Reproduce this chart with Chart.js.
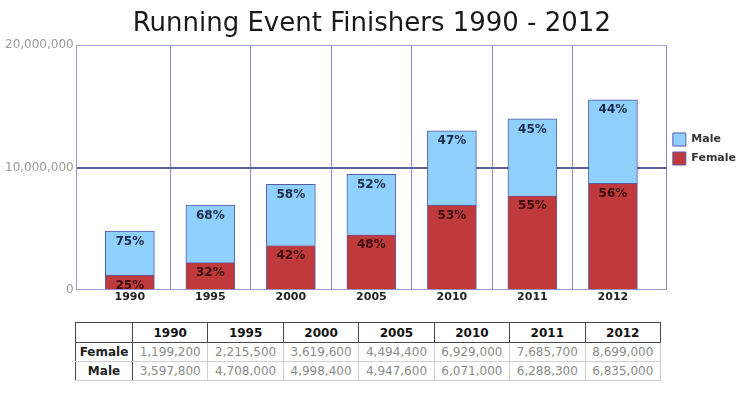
<!DOCTYPE html>
<html><head><meta charset="utf-8">
<script src="https://cdn.jsdelivr.net/npm/chart.js@4"></script>
<style>
html,body{margin:0;padding:0;background:#fff;}
#wrap{position:relative;width:750px;height:394px;overflow:hidden;}
#cbox{position:absolute;left:0;top:0;width:750px;height:310px;}
#tbl{position:absolute;left:75px;top:322px;width:586px;border-collapse:collapse;table-layout:fixed;font-family:'DejaVu Sans',Verdana,sans-serif;font-size:12px;}
#tbl th,#tbl td{padding:0;text-align:center;white-space:nowrap;overflow:hidden;}
#tbl tr.hd th{border:1px solid #4a4a4a;height:19px;color:#111;font-weight:bold;}
#tbl th.rh{border-left:1px solid #4a4a4a;border-right:1px solid #4a4a4a;border-top:1px solid #cfcfcf;border-bottom:1px solid #cfcfcf;color:#222;font-weight:bold;height:18px;}
#tbl td{border:1px solid #cfcfcf;color:#8a8a8a;height:18px;}
</style></head>
<body>
<div id="wrap">
  <div id="cbox"><canvas id="c"></canvas></div>
  <table id="tbl"></table>
</div>
<script>
const chartTitle = 'Running Event Finishers 1990 - 2012';
const years = ['1990', '1995', '2000', '2005', '2010', '2011', '2012'];
const female = [1199200, 2215500, 3619600, 4494400, 6929000, 7685700, 8699000];
const male = [3597800, 4708000, 4998400, 4947600, 6071000, 6288300, 6835000];
const yTickValues = [0, 10000000, 20000000];
const seriesNames = ['Female', 'Male'];

const FONT = "'DejaVu Sans', Verdana, sans-serif";
const fmt = v => Number(v).toLocaleString('en-US');

// table built from the same arrays
(function () {
  const t = document.getElementById('tbl');
  let h = '<colgroup><col style="width:57px">' + years.map(() => '<col>').join('') + '</colgroup>';
  h += '<tr class="hd"><th></th>' + years.map(y => '<th>' + y + '</th>').join('') + '</tr>';
  [[seriesNames[0], female], [seriesNames[1], male]].forEach(([n, arr]) => {
    h += '<tr><th class="rh">' + n + '</th>' + arr.map(v => '<td>' + fmt(v) + '</td>').join('') + '</tr>';
  });
  t.innerHTML = h;
})();

const pctPlugin = {
  id: 'pct',
  afterDatasetsDraw(chart) {
    const ctx = chart.ctx;
    ctx.save();
    ctx.font = 'bold 12px ' + FONT;
    ctx.textAlign = 'center';
    ctx.textBaseline = 'middle';
    chart.data.datasets.forEach((ds, di) => {
      const meta = chart.getDatasetMeta(di);
      meta.data.forEach((bar, i) => {
        const total = female[i] + male[i];
        const v = di === 0 ? female[i] : male[i];
        ctx.fillStyle = di === 0 ? '#3a0c0c' : '#1c2b48';
        ctx.fillText(Math.round(v / total * 100) + '%', bar.x, bar.y + 10.5);
      });
    });
    ctx.restore();
  }
};

const xMin = -0.66, xMax = 6.67;
const tv = (c) => (c && c.tick) ? c.tick.value : null;

new Chart(document.getElementById('c'), {
  type: 'bar',
  data: {
    datasets: [
      { label: seriesNames[0], data: female.map((v, i) => ({ x: i, y: v })), backgroundColor: '#c0393b', borderColor: '#5a5aa6', borderWidth: 1, stack: 's' },
      { label: seriesNames[1], data: male.map((v, i) => ({ x: i, y: v })), backgroundColor: '#8fd0fd', borderColor: '#5a5aa6', borderWidth: 1, stack: 's' }
    ]
  },
  options: {
    responsive: true,
    maintainAspectRatio: false,
    animation: false,
    barThickness: 49,
    layout: { padding: { left: 2, right: 4, top: 0, bottom: 5 } },
    scales: {
      x: {
        type: 'linear',
        offset: false,
        min: xMin, max: xMax,
        afterBuildTicks: (axis) => {
          const t = [xMin];
          for (let i = 0; i < years.length; i++) { t.push(i); if (i < years.length - 1) t.push(i + 0.5); }
          t.push(xMax);
          axis.ticks = t.map(v => ({ value: v }));
        },
        ticks: {
          autoSkip: false, maxRotation: 0, padding: 1,
          color: '#222', font: { family: FONT, size: 11, weight: 'bold' },
          callback: (v) => Number.isInteger(v) ? years[v] : ''
        },
        grid: {
          offset: false,
          drawTicks: false,
          color: (c) => { const v = tv(c); return (v !== null && Number.isInteger(v)) ? 'rgba(0,0,0,0)' : '#8e8ebf'; },
          lineWidth: 1
        },
        border: { display: true, color: '#9b9bcb', width: 1 }
      },
      y: {
        stacked: true,
        min: 0, max: 20000000,
        afterBuildTicks: (axis) => { axis.ticks = yTickValues.map(v => ({ value: v })); },
        ticks: {
          padding: 3, color: '#9a9a9a', font: { family: FONT, size: 12 },
          callback: (v) => fmt(v)
        },
        grid: {
          drawTicks: false,
          color: (c) => tv(c) === 10000000 ? '#5e5e96' : '#a6a6d2',
          lineWidth: (c) => tv(c) === 10000000 ? 2 : 1
        },
        border: { display: true, color: '#9b9bcb', width: 1 }
      }
    },
    plugins: {
      title: {
        display: true, text: chartTitle, fullSize: false,
        color: '#1a1a1a', font: { family: FONT, size: 26, weight: 'normal' },
        padding: { top: 9, bottom: 5 }
      },
      legend: {
        position: 'right', align: 'start', reverse: true,
        title: { display: true, text: ' ', font: { size: 10 }, padding: { top: 115, bottom: 0 } },
        labels: { boxWidth: 13, boxHeight: 13, padding: 6, color: '#333', font: { family: FONT, size: 11, weight: 'bold' } }
      },
      tooltip: { enabled: false }
    }
  },
  plugins: [pctPlugin]
});
</script>
</body></html>
